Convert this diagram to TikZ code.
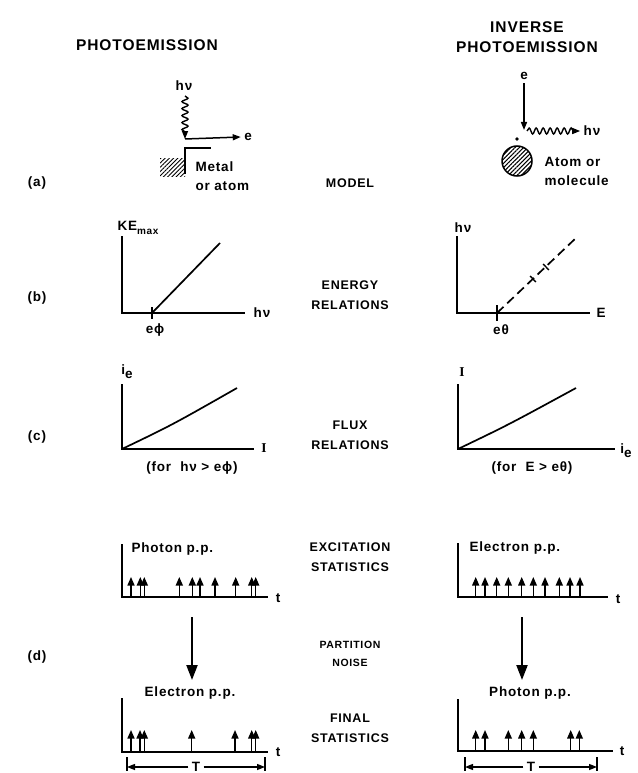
\documentclass[tikz,border=0pt]{standalone}
\usepackage{fontspec}
\setmainfont{Liberation Sans}[LetterSpace=6]
\newfontfamily\serifI{Liberation Serif}[LetterSpace=6]
\usetikzlibrary{arrows.meta,positioning,patterns.meta,decorations.pathmorphing}

\begin{document}
\begin{tikzpicture}[
  x=1pt,y=-1pt,
  font=\fontsize{13.5}{19}\selectfont\bfseries,
  >={Triangle[length=8pt,width=6pt]},
  axis/.style={line width=1.5pt},
  curve/.style={line width=1.7pt},
  head/.style={font=\fontsize{15.5}{20}\selectfont\bfseries,align=center},
  mid/.style={font=\fontsize{12.5}{20}\selectfont\bfseries,align=center},
  tag/.style={font=\fontsize{13.5}{16}\selectfont\bfseries},
  spike/.style={-{Triangle[length=8.5pt,width=7pt]},line width=1.4pt},
  bigdown/.style={-{Triangle[length=15pt,width=11pt]},line width=2.2pt},
  photon/.style={decorate,decoration={snake,amplitude=3pt,segment length=7pt,post length=5pt},line width=1.4pt},
  hatch/.style={pattern={Lines[angle=45,distance=3pt,line width=1pt]}},
]
\useasboundingbox (0,0) rectangle (637,773);

% ============ column heads ============
\node[head] (pe) at (147,45) {PHOTOEMISSION};
\node[head] (ipe) at (527,37) {INVERSE\\PHOTOEMISSION};

% ============ row (a): model ============
\node[tag] (la) at (37,183) {(a)};
\node[mid] (model) at (350,183) {MODEL};
% photoemission: photon in, electron out
\node (hnuin) at (184,86) {hν};
\coordinate (wtop) at (185,96);
\coordinate (wbot) at (185,139);
\draw[->,photon] (wtop) -- (wbot);
\node (eout) at (248,137) {e};
\draw[->,line width=1.5pt] (wbot) -- (eout.west);
\fill[hatch] (160,158) rectangle (185,176);
\draw[line width=1.4pt] (185,174) |- (211,148);
\node[anchor=west,align=left] (metal) at (192,176) {Metal\\or atom};
% inverse: electron in, photon out
\node (ein) at (524,76) {e};
\coordinate (hit) at (524,130);
\draw[->,line width=1.5pt] (ein.south) -- (hit);
\coordinate (emit) at (527,131);
\node (hnuout) at (592,131) {hν};
\draw[->,photon,decoration={amplitude=3pt,segment length=7pt}] (emit) -- (hnuout.west);
\node[circle,fill,inner sep=1.3pt] (spot) at (517,139) {};
\node[circle,draw,line width=1.5pt,minimum size=30pt,inner sep=0pt,hatch] (atom) at (517,161) {};
\node[anchor=west,align=left] (atomtxt) at (541,171) {Atom or\\molecule};

% ============ row (b): energy relations ============
\node[tag] (lb) at (37,298) {(b)};
\node[mid] (energy) at (350,295) {ENERGY\\RELATIONS};
% left graph
\coordinate (bo) at (122,313);
\node (kemax) at (138,228) {KE\raisebox{-0.5ex}{\fontsize{10}{10}\selectfont\bfseries max}};
\draw[axis] (122,236) -- (bo) -- (245,313);
\node (bx) at (262,313) {hν};
\coordinate (phi) at (152,313);
\draw[axis] (152,307) -- (152,319);
\node (ephi) at (155,330) {eϕ};
\draw[curve] (phi) -- (220,243);
% right graph
\coordinate (bro) at (457,313);
\node (hnuy) at (463,228) {hν};
\draw[axis] (457,236) -- (bro) -- (590,313);
\node (ex) at (601,313) {E};
\coordinate (theta) at (497,313);
\draw[axis] (497,305) -- (497,321);
\node (etheta) at (501,330) {eθ};
\draw[curve,dash pattern=on 9pt off 5pt] (theta) -- (577,237);
\foreach \p in {(533,279),(546,267)}
  \draw[line width=1.4pt] \p ++(-2.9,-3) -- ++(5.8,6);

% ============ row (c): flux relations ============
\node[tag] (lc) at (37,437) {(c)};
\node[mid] (flux) at (350,435) {FLUX\\RELATIONS};
% left graph
\coordinate (co) at (122,449);
\node (iey) at (127,372) {i\raisebox{-0.6ex}{e}};
\draw[axis] (122,384) -- (co) -- (254,449);
\node (ix) at (264,448) {\serifI I};
\draw[curve] (co) .. controls (172,425) .. (237,388);
\node (forl) at (192,468) {(for\ \ hν > eϕ)};
% right graph
\coordinate (cro) at (458,449);
\node (iy) at (462,372) {\serifI I};
\draw[axis] (458,384) -- (cro) -- (615,449);
\node (iex) at (626,451) {i\raisebox{-0.6ex}{e}};
\draw[curve] (cro) .. controls (508,425) .. (576,388);
\node (forr) at (532,468) {(for\ \ E > eθ)};

% ============ row (d): statistics ============
\node[tag] (ld) at (37,657) {(d)};
\node[mid] (excit) at (350,557) {EXCITATION\\STATISTICS};
\node[mid,font=\fontsize{10.5}{18}\selectfont\bfseries] (noise) at (350,654) {PARTITION\\NOISE};
\node[mid] (final) at (350,728) {FINAL\\STATISTICS};
% left: photon train
\node[anchor=west] (phpp) at (128,549) {Photon p.p.};
\draw[axis] (122,544) -- (122,597) -- (268,597);
\node (tl1) at (278,598) {t};
\foreach \x in {131,140.3,144.3,179.3,192.3,200,215,235.7,251.7,255.7}
  \draw[spike] (\x,597) -- (\x,577);
% left: electron train
\coordinate (dl) at (192,617);
\node (elpp) at (190,693) {Electron p.p.};
\draw[bigdown] (dl) -- (192,680);
\draw[axis] (122,698) -- (122,752) -- (268,752);
\node (tl2) at (278,752) {t};
\foreach \x in {131,140,144.3,191.7,235,251.7,255.7}
  \draw[spike] (\x,752) -- (\x,730);
\node (tlen) at (196,767) {T};
\draw[line width=1.3pt] (127,757) -- (127,771) (265,757) -- (265,771);
\draw[->,line width=1.3pt] (tlen.west) -- (127,767);
\draw[->,line width=1.3pt] (tlen.east) -- (265,767);
% right: electron train
\node[anchor=west] (elpp2) at (466,548) {Electron p.p.};
\draw[axis] (458,543) -- (458,597) -- (608,597);
\node (tr1) at (618,599) {t};
\foreach \x in {475.7,485,496.7,508.3,521.7,533.3,545,559.3,570,580}
  \draw[spike] (\x,597) -- (\x,577);
% right: photon train
\coordinate (dr) at (522,617);
\node (phpp2) at (530,693) {Photon p.p.};
\draw[bigdown] (dr) -- (522,680);
\draw[axis] (458,699) -- (458,751) -- (613,751);
\node (tr2) at (622,751) {t};
\foreach \x in {475.7,485,508.3,521.7,533.3,570.7,579.3}
  \draw[spike] (\x,751) -- (\x,730);
\node (tlen2) at (531,767) {T};
\draw[line width=1.3pt] (465,757) -- (465,771) (597,757) -- (597,771);
\draw[->,line width=1.3pt] (tlen2.west) -- (465,767);
\draw[->,line width=1.3pt] (tlen2.east) -- (597,767);

\end{tikzpicture}
\end{document}
